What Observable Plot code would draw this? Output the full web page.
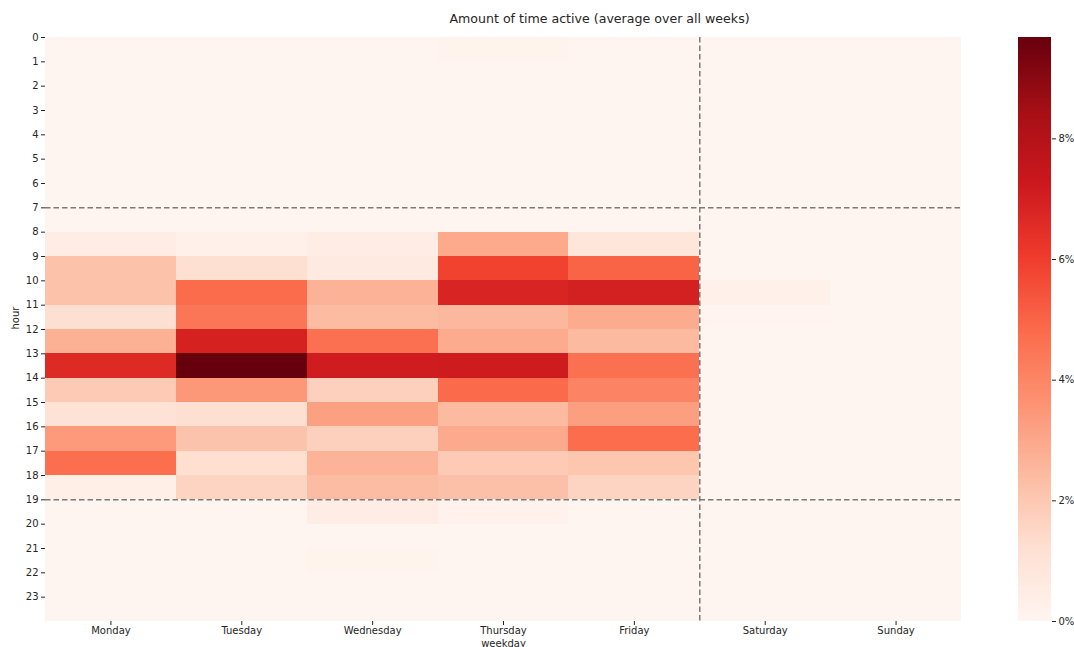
<!DOCTYPE html>
<html><head><meta charset="utf-8">
<script src="https://cdn.jsdelivr.net/npm/d3@7"></script>
<script src="https://cdn.jsdelivr.net/npm/@observablehq/plot@0.6"></script>
<style>
body{margin:0;background:#fff;font-family:"DejaVu Sans",sans-serif;}
#wrap{position:relative;width:1074px;height:647px;overflow:hidden;}
#wrap > svg{position:absolute;top:0;}
</style></head><body><div id="wrap"></div>
<script>
const weekdays = ["Monday","Tuesday","Wednesday","Thursday","Friday","Saturday","Sunday"];
const hours = [0,1,2,3,4,5,6,7,8,9,10,11,12,13,14,15,16,17,18,19,20,21,22,23];
const colorTicks = [0,2,4,6,8];
const titleText = "Amount of time active (average over all weeks)";
//               0  1  2  3  4  5  6  7  8     9     10    11    12    13    14    15    16    17    18    19    20    21    22 23
const monday    = [0, 0, 0, 0, 0, 0, 0, 0, 0.5,  2.2,  2.2,  1.2,  2.75, 6.65, 1.93, 1.1,  3.39, 4.72, 0.35, 0,    0,    0,    0, 0];
const tuesday   = [0, 0, 0, 0, 0, 0, 0, 0, 0.25, 1.2,  4.78, 4.48, 6.91, 9.68, 3.48, 1.2,  2.16, 1.25, 1.63, 0,    0,    0,    0, 0];
const wednesday = [0, 0, 0, 0, 0, 0, 0, 0, 0.5,  0.65, 2.7,  2.4,  4.65, 7.12, 1.73, 3.22, 1.73, 2.65, 2.38, 0.45, 0,    0.12, 0, 0];
const thursday  = [0.12,0,0, 0, 0, 0, 0, 0, 2.95, 5.87, 6.81, 2.5,  2.89, 7.15, 4.8,  2.42, 2.92, 1.93, 2.25, 0.15, 0,    0,    0, 0];
const friday    = [0, 0, 0, 0, 0, 0, 0, 0, 0.85, 5.0,  6.98, 2.9,  2.42, 4.65, 4.08, 3.28, 4.75, 2.07, 1.63, 0,    0,    0,    0, 0];
const saturday  = [0, 0, 0, 0, 0, 0, 0, 0, 0,    0,    0.3,  0.05, 0,    0,    0,    0,    0,    0,    0,    0,    0,    0,    0, 0];
const sunday    = [0, 0, 0, 0, 0, 0, 0, 0, 0,    0,    0,    0,    0,    0,    0,    0,    0,    0,    0,    0,    0,    0,    0, 0];

const series = [monday, tuesday, wednesday, thursday, friday, saturday, sunday];
const data = [];
weekdays.forEach((d, i) => series[i].forEach((v, h) => data.push({day: i, hour: hours[h], value: v})));
const vmax = d3.max(data, d => d.value);
const reds = ["#fff5f0","#fee0d2","#fcbba1","#fc9272","#fb6a4a","#ef3b2c","#cb181d","#a50f15","#67000d"];
const colorOpts = () => ({type: "linear", domain: reds.map((_, i) => i * vmax / 8), range: reds, interpolate: "rgb"});
const txt = "#262626";
const dash = {stroke: "#7a7a7a", strokeWidth: 1.5, strokeDasharray: "5.5,3"};

const main = Plot.plot({
  width: 1000, height: 647,
  marginLeft: 45, marginRight: 39, marginTop: 37, marginBottom: 26,
  style: {fontFamily: "DejaVu Sans, sans-serif", fontSize: "10px", color: txt, background: "transparent"},
  x: {domain: [0, 7], ticks: weekdays.map((_, i) => i + 0.5), tickFormat: d => weekdays[Math.floor(d)], tickSize: 4, tickPadding: 1, label: null},
  y: {domain: [0, 24], reverse: true, ticks: hours, tickFormat: d => String(d), tickSize: 4, tickPadding: 3, label: null},
  color: colorOpts(),
  marks: [
    Plot.rect(data, {x1: "day", x2: d => d.day + 1, y1: "hour", y2: d => d.hour + 1, fill: "value", inset: 0, shapeRendering: "crispEdges"}),
    Plot.ruleY([7, 19], dash),
    Plot.ruleX([5], dash),
    Plot.text([titleText], {text: d => d, frameAnchor: "top", lineAnchor: "middle", dx: 96, dy: -19, fontSize: 12.6, fill: txt}),
    Plot.text(["hour"], {text: d => d, frameAnchor: "left", lineAnchor: "middle", dx: -30, rotate: -90, fontSize: 10, fill: txt}),
    Plot.text(["weekday"], {text: d => d, frameAnchor: "bottom", lineAnchor: "bottom", dy: 25, fontSize: 10, fill: txt})
  ]
});
main.style.left = "0px";

const N = 400;
const strips = d3.range(N).map(i => ({y1: i * vmax / N, y2: (i + 1) * vmax / N}));
const cbar = Plot.plot({
  width: 56, height: 647,
  marginLeft: 0, marginRight: 23, marginTop: 37, marginBottom: 26,
  style: {fontFamily: "DejaVu Sans, sans-serif", fontSize: "10px", color: txt, background: "transparent", overflow: "visible"},
  y: {domain: [0, vmax], axis: "right", ticks: colorTicks, tickFormat: d => d + "%", tickSize: 4, tickPadding: 3, label: null},
  color: colorOpts(),
  marks: [
    Plot.rect(strips, {y1: "y1", y2: "y2", fill: d => (d.y1 + d.y2) / 2, shapeRendering: "crispEdges"})
  ]
});
cbar.style.left = "1018px";

const wrap = document.getElementById("wrap");
wrap.appendChild(main);
wrap.appendChild(cbar);
</script>
</body></html>
